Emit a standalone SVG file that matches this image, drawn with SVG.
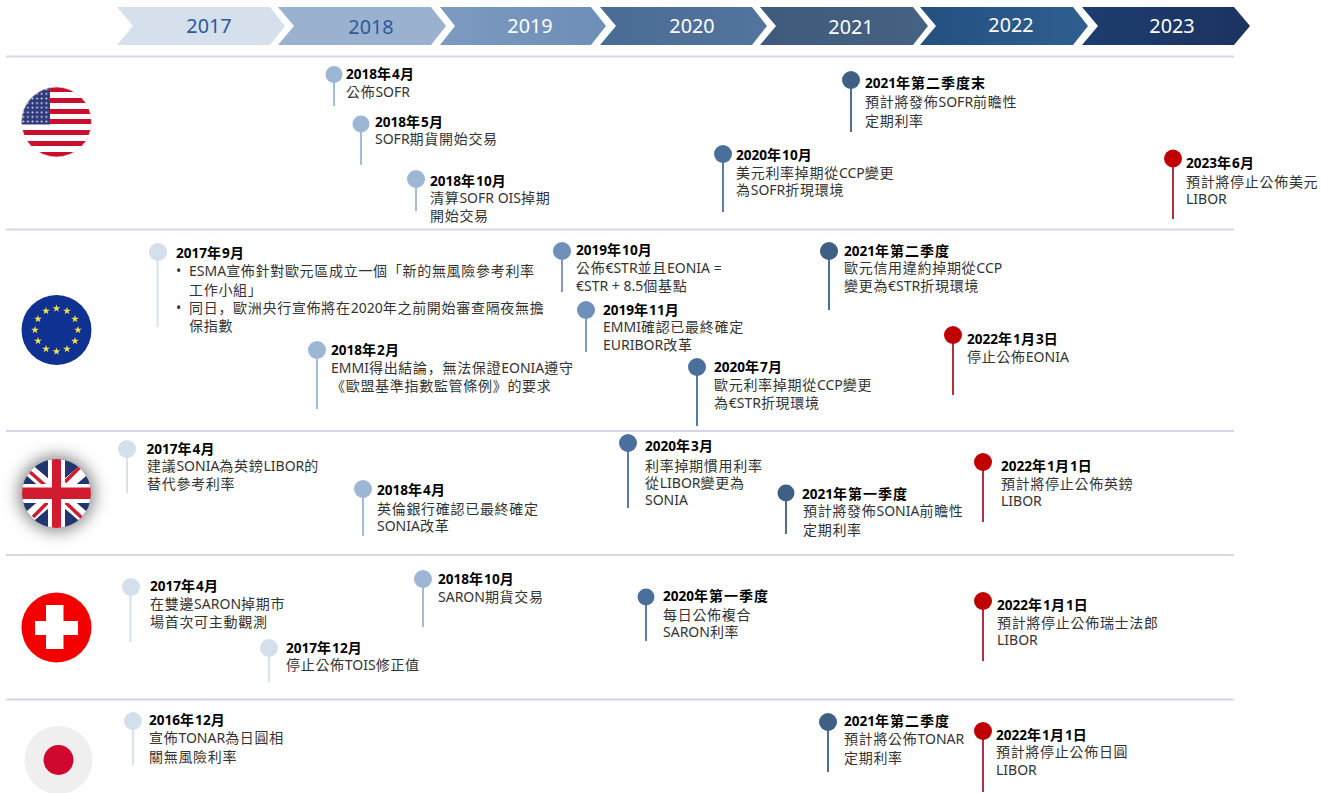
<svg xmlns="http://www.w3.org/2000/svg" width="1330" height="793" viewBox="0 0 1330 793">
<style>
text{font-family:"Noto Sans","Noto Sans CJK TC",sans-serif;font-size:14px;letter-spacing:.7px;fill:#333}
.l{font-size:14px;letter-spacing:0}
.t{font-weight:700;fill:#000;font-size:14px;letter-spacing:1px}
.t .l{font-size:13.6px;letter-spacing:0}
.sc{font-family:"Noto Sans CJK SC",sans-serif}
.y{font-size:19.8px;letter-spacing:0;text-anchor:middle;fill:#fff}
.yd{fill:#2a5a9c}
.r{stroke:#d6d6ea;stroke-width:2}
.s{stroke-width:2;fill:none}
.c17{fill:#d3dfea}.c18{fill:#9db6d3}.c19{fill:#6f90b8}.c20{fill:#4b6f9b}.c21{fill:#3f5f85}.c22{fill:#c00000}
.l17{stroke:#d8e2ec}.l18{stroke:#a5bcd6}.l19{stroke:#7f9cc0}.l20{stroke:#5a7ba5}.l21{stroke:#4f6d90}.l22{stroke:#b03040}
</style>
<defs>
<linearGradient id="g19" x1="0" x2="1" y1="0" y2="0"><stop offset="0" stop-color="#7d9ac0"/><stop offset="1" stop-color="#6d8eb7"/></linearGradient>
<linearGradient id="g20" x1="0" x2="1" y1="0" y2="0"><stop offset="0" stop-color="#4a6b94"/><stop offset="1" stop-color="#53749d"/></linearGradient>
<linearGradient id="g21" x1="0" x2="1" y1="0" y2="0"><stop offset="0" stop-color="#3e5b7b"/><stop offset="1" stop-color="#466282"/></linearGradient>
<linearGradient id="g22" x1="0" x2="1" y1="0" y2="0"><stop offset="0" stop-color="#23507f"/><stop offset="1" stop-color="#2f5f8f"/></linearGradient>
<linearGradient id="g23" x1="0" x2="1" y1="0" y2="0"><stop offset="0" stop-color="#1c3d6e"/><stop offset="1" stop-color="#1d3360"/></linearGradient>
<pattern id="stars" width="4.6" height="4.6" patternUnits="userSpaceOnUse" x="21" y="87"><rect width="4.6" height="4.6" fill="#2f3a7e"/><circle cx="2.300" cy="2.300" r="1" fill="#dfe0ee"/></pattern>
<clipPath id="cu"><circle cx="56.500" cy="122" r="35"/></clipPath>
<clipPath id="cg"><circle cx="56.500" cy="493.500" r="34.500"/></clipPath>
<filter id="sh" x="-60%" y="-60%" width="220%" height="220%"><feGaussianBlur stdDeviation="8"/></filter>
<polygon id="star" points="0,-4 .95,-1.200 3.900,-1.200 1.500,.5 2.400,3.300 0,1.600 -2.400,3.300 -1.500,.5 -3.900,-1.200 -.95,-1.200" fill="#f7e04b"/>
</defs>
<rect width="1330" height="793" fill="#fff"/>

<g id="timeline">
<g id="y2017"><polygon points="117,7 270,7 285,26 270,45 117,45 133,26" fill="#d5e0ec"/><text class="y yd" x="209" y="33">2017</text></g>
<g id="y2018"><polygon points="278,7 431,7 446,26 431,45 278,45 294,26" fill="#9ab2cf"/><text class="y yd" x="371" y="34">2018</text></g>
<g id="y2019"><polygon points="440,7 591,7 606,26 591,45 440,45 455,26" fill="url(#g19)"/><text class="y" x="530" y="33">2019</text></g>
<g id="y2020"><polygon points="600,7 752,7 767,26 752,45 600,45 616,26" fill="url(#g20)"/><text class="y" x="692" y="33">2020</text></g>
<g id="y2021"><polygon points="760,7 913,7 928,26 913,45 760,45 776,26" fill="url(#g21)"/><text class="y" x="851" y="34">2021</text></g>
<g id="y2022"><polygon points="920,7 1073,7 1088,26 1073,45 920,45 936,26" fill="url(#g22)"/><text class="y" x="1011" y="32">2022</text></g>
<g id="y2023"><polygon points="1082,7 1234,7 1250,26 1234,45 1082,45 1098,26" fill="url(#g23)"/><text class="y" x="1172" y="33">2023</text></g>
</g>

<g id="rows">
<line class="r" x1="6" x2="1234" y1="56.500" y2="56.500"/>
<line class="r" x1="6" x2="1234" y1="229.500" y2="229.500"/>
<line class="r" x1="6" x2="1234" y1="431" y2="431"/>
<line class="r" x1="6" x2="1234" y1="555" y2="555"/>
<line class="r" x1="6" x2="1234" y1="699.500" y2="699.500"/>
</g>

<g id="flag-us"><g clip-path="url(#cu)">
<rect x="21" y="87" width="71" height="70" fill="#fff"/>
<g fill="#c8102e"><rect x="21" y="87" width="71" height="5"/><rect x="21" y="98" width="71" height="5"/><rect x="21" y="109" width="71" height="5"/><rect x="21" y="119" width="71" height="5"/><rect x="21" y="130" width="71" height="5"/><rect x="21" y="141" width="71" height="5"/><rect x="21" y="152" width="71" height="5"/></g>
<rect x="21" y="87" width="29" height="37.500" fill="url(#stars)"/>
</g><circle cx="56.500" cy="122" r="35" fill="none" stroke="#ddd" stroke-width=".7"/></g>
<g id="flag-eu"><circle cx="56.500" cy="330" r="35" fill="#0e3192"/>
<use href="#star" x="56.500" y="308.500"/><use href="#star" x="67" y="311"/><use href="#star" x="75" y="319"/><use href="#star" x="78" y="330"/><use href="#star" x="75" y="341"/><use href="#star" x="67" y="349"/><use href="#star" x="56.500" y="351.500"/><use href="#star" x="46" y="349"/><use href="#star" x="38" y="341"/><use href="#star" x="35" y="330"/><use href="#star" x="38" y="319"/><use href="#star" x="46" y="311"/>
</g>
<g id="flag-uk">
<circle cx="56.500" cy="493.500" r="38" fill="#888" filter="url(#sh)"/>
<g clip-path="url(#cg)">
<rect x="21" y="458" width="72" height="72" fill="#22356f"/>
<path d="M21 463L92 524M21 524L92 463" stroke="#fff" stroke-width="12"/>
<path d="M30 472L47 487M80 467L65 482M33 517L48 502M82 518L65 502" stroke="#d01c2e" stroke-width="3.500"/>
<rect x="48" y="458" width="17" height="72" fill="#fff"/><rect x="21" y="484" width="72" height="19" fill="#fff"/>
<rect x="52" y="458" width="9" height="72" fill="#d01c2e"/><rect x="21" y="487.500" width="72" height="11.500" fill="#d01c2e"/>
</g></g>
<g id="flag-ch"><circle cx="56.500" cy="627.500" r="35" fill="#f40000"/><rect x="46" y="605" width="17.500" height="44" fill="#fff"/><rect x="35" y="621" width="43" height="14" fill="#fff"/></g>
<g id="flag-jp"><circle cx="58.500" cy="760" r="34" fill="#efeff0"/><circle cx="58.500" cy="760" r="15" fill="#d0082f"/></g>

<g id="connectors">
<path class="s l18" d="M334 80V106M361 129V165M416 185V211"/>
<path class="s l20" d="M723 160V212"/>
<path class="s l21" d="M851 86V132"/>
<path class="s l22" d="M1173 165V219"/>
<path class="s l17" d="M157.500 258V327"/>
<path class="s l18" d="M317 356V409"/>
<path class="s l19" d="M562 257V292M586 316V352"/>
<path class="s l20" d="M697 373V426"/>
<path class="s l21" d="M829 257V310"/>
<path class="s l22" d="M953 341V395"/>
<path class="s l17" d="M127 455V493"/>
<path class="s l18" d="M363 495V536"/>
<path class="s l20" d="M628 449V508"/>
<path class="s l21" d="M786 499V534"/>
<path class="s l22" d="M983 468V522"/>
<path class="s l17" d="M130.500 593V642M269 654V682"/>
<path class="s l18" d="M423 585V627"/>
<path class="s l20" d="M646 603V641"/>
<path class="s l22" d="M983 607V661"/>
<path class="s l17" d="M133 727V765"/>
<path class="s l21" d="M828 728V772"/>
<path class="s l22" d="M983 737V792"/>
</g>

<g id="n-us-201804"><circle class="c18" cx="334" cy="74.500" r="8.500"/><text class="t" x="346" y="79"><tspan class="l">2018</tspan>年<tspan class="l">4</tspan>月</text><text x="346" y="97">公佈<tspan class="l">SOFR</tspan></text></g>
<g id="n-us-201805"><circle class="c18" cx="361" cy="124" r="8.500"/><text class="t" x="375" y="127"><tspan class="l">2018</tspan>年<tspan class="l">5</tspan>月</text><text x="375" y="144"><tspan class="l">SOFR</tspan>期貨開始交易</text></g>
<g id="n-us-201810"><circle class="c18" cx="416" cy="179" r="9"/><text class="t" x="430" y="186"><tspan class="l">2018</tspan>年<tspan class="l">10</tspan>月</text><text x="430" y="203">清算<tspan class="l">SOFR OIS</tspan>掉期</text><text x="430" y="221">開始交易</text></g>
<g id="n-us-202010"><circle class="c20" cx="723" cy="154" r="9"/><text class="t" x="736" y="160"><tspan class="l">2020</tspan>年<tspan class="l">10</tspan>月</text><text x="736" y="178">美元利率掉期從<tspan class="l">CCP</tspan>變更</text><text x="736" y="195">為<tspan class="l">SOFR</tspan>折現環境</text></g>
<g id="n-us-2021q2"><circle class="c21" cx="851" cy="80" r="9"/><text class="t" x="865" y="88"><tspan class="l">2021</tspan>年第二季度末</text><text x="865" y="107">預計將發佈<tspan class="l">SOFR</tspan>前瞻性</text><text x="865" y="126">定期利率</text></g>
<g id="n-us-202306"><circle class="c22" cx="1173" cy="158.500" r="9"/><text class="t" x="1186" y="168"><tspan class="l">2023</tspan>年<tspan class="l">6</tspan>月</text><text x="1186" y="187">預計將停止公佈美元</text><text class="l" x="1186" y="204">LIBOR</text></g>

<g id="n-eu-201709"><circle class="c17" cx="158" cy="252" r="9"/><text class="t" x="176" y="258"><tspan class="l">2017</tspan>年<tspan class="l">9</tspan>月</text><text x="176" y="276">•</text><text x="189" y="276"><tspan class="l">ESMA</tspan>宣佈針對歐元區成立一個「新的無風險參考利率</text><text x="189" y="295">工作小組」</text><text x="176" y="313">•</text><text x="189" y="313">同日<tspan class="sc">，</tspan>歐洲央行宣佈將在<tspan class="l">2020</tspan>年之前開始審查隔夜無擔</text><text x="189" y="331">保指數</text></g>
<g id="n-eu-201802"><circle class="c18" cx="317" cy="350" r="9"/><text class="t" x="331" y="355"><tspan class="l">2018</tspan>年<tspan class="l">2</tspan>月</text><text x="331" y="373"><tspan class="l">EMMI</tspan>得出結論<tspan class="sc">，</tspan>無法保證<tspan class="l">EONIA</tspan>遵守</text><text x="331" y="391">《歐盟基準指數監管條例》的要求</text></g>
<g id="n-eu-201910"><circle class="c19" cx="562" cy="251" r="9"/><text class="t" x="576" y="255"><tspan class="l">2019</tspan>年<tspan class="l">10</tspan>月</text><text x="576" y="273">公佈<tspan class="l">€STR</tspan>並且<tspan class="l">EONIA =</tspan></text><text x="576" y="291"><tspan class="l">€STR + 8.5</tspan>個基點</text></g>
<g id="n-eu-201911"><circle class="c19" cx="586" cy="310" r="9"/><text class="t" x="603" y="315"><tspan class="l">2019</tspan>年<tspan class="l">11</tspan>月</text><text x="603" y="332"><tspan class="l">EMMI</tspan>確認已最終確定</text><text x="603" y="350"><tspan class="l">EURIBOR</tspan>改革</text></g>
<g id="n-eu-202007"><circle class="c20" cx="697" cy="367" r="9"/><text class="t" x="714" y="372"><tspan class="l">2020</tspan>年<tspan class="l">7</tspan>月</text><text x="714" y="390">歐元利率掉期從<tspan class="l">CCP</tspan>變更</text><text x="714" y="408">為<tspan class="l">€STR</tspan>折現環境</text></g>
<g id="n-eu-2021q2"><circle class="c21" cx="829" cy="251" r="9"/><text class="t" x="844" y="256"><tspan class="l">2021</tspan>年第二季度</text><text x="844" y="273">歐元信用違約掉期從<tspan class="l">CCP</tspan></text><text x="844" y="291">變更為<tspan class="l">€STR</tspan>折現環境</text></g>
<g id="n-eu-202201"><circle class="c22" cx="953" cy="335" r="9"/><text class="t" x="967" y="344"><tspan class="l">2022</tspan>年<tspan class="l">1</tspan>月<tspan class="l">3</tspan>日</text><text x="967" y="362">停止公佈<tspan class="l">EONIA</tspan></text></g>

<g id="n-uk-201704"><circle class="c17" cx="127" cy="449" r="9"/><text class="t" x="146.500" y="454"><tspan class="l">2017</tspan>年<tspan class="l">4</tspan>月</text><text x="147" y="471">建議<tspan class="l">SONIA</tspan>為英鎊<tspan class="l">LIBOR</tspan>的</text><text x="147" y="489">替代參考利率</text></g>
<g id="n-uk-201804"><circle class="c18" cx="363" cy="489" r="9"/><text class="t" x="377" y="495"><tspan class="l">2018</tspan>年<tspan class="l">4</tspan>月</text><text x="377" y="514">英倫銀行確認已最終確定</text><text x="377" y="531"><tspan class="l">SONIA</tspan>改革</text></g>
<g id="n-uk-202003"><circle class="c20" cx="628" cy="443" r="9"/><text class="t" x="645" y="451"><tspan class="l">2020</tspan>年<tspan class="l">3</tspan>月</text><text x="645" y="471">利率掉期慣用利率</text><text x="645" y="488">從<tspan class="l">LIBOR</tspan>變更為</text><text class="l" x="645" y="505">SONIA</text></g>
<g id="n-uk-2021q1"><circle class="c21" cx="786" cy="493" r="8.500"/><text class="t" x="802" y="499"><tspan class="l">2021</tspan>年第一季度</text><text x="803" y="516">預計將發佈<tspan class="l">SONIA</tspan>前瞻性</text><text x="803" y="535">定期利率</text></g>
<g id="n-uk-202201"><circle class="c22" cx="983" cy="462" r="9"/><text class="t" x="1001" y="471"><tspan class="l">2022</tspan>年<tspan class="l">1</tspan>月<tspan class="l">1</tspan>日</text><text x="1001" y="489">預計將停止公佈英鎊</text><text class="l" x="1001" y="506">LIBOR</text></g>

<g id="n-ch-201704"><circle class="c17" cx="131" cy="587" r="9"/><text class="t" x="150" y="591"><tspan class="l">2017</tspan>年<tspan class="l">4</tspan>月</text><text x="150" y="609">在雙邊<tspan class="l">SARON</tspan>掉期市</text><text x="150" y="627">場首次可主動觀測</text></g>
<g id="n-ch-201712"><circle class="c17" cx="269" cy="648" r="9"/><text class="t" x="286" y="653"><tspan class="l">2017</tspan>年<tspan class="l">12</tspan>月</text><text x="286" y="670">停止公佈<tspan class="l">TOIS</tspan>修正值</text></g>
<g id="n-ch-201810"><circle class="c18" cx="423" cy="579" r="9"/><text class="t" x="438" y="584"><tspan class="l">2018</tspan>年<tspan class="l">10</tspan>月</text><text x="438" y="602"><tspan class="l">SARON</tspan>期貨交易</text></g>
<g id="n-ch-2020q1"><circle class="c20" cx="646" cy="597" r="8.500"/><text class="t" x="663" y="601"><tspan class="l">2020</tspan>年第一季度</text><text x="663" y="620">每日公佈複合</text><text x="663" y="637"><tspan class="l">SARON</tspan>利率</text></g>
<g id="n-ch-202201"><circle class="c22" cx="983" cy="601" r="9"/><text class="t" x="997" y="610"><tspan class="l">2022</tspan>年<tspan class="l">1</tspan>月<tspan class="l">1</tspan>日</text><text x="997" y="628">預計將停止公佈瑞士法郎</text><text class="l" x="997" y="645">LIBOR</text></g>

<g id="n-jp-201612"><circle class="c17" cx="133" cy="721" r="9"/><text class="t" x="149" y="725"><tspan class="l">2016</tspan>年<tspan class="l">12</tspan>月</text><text x="149" y="743">宣佈<tspan class="l">TONAR</tspan>為日圓相</text><text x="149" y="762">關無風險利率</text></g>
<g id="n-jp-2021q2"><circle class="c21" cx="828" cy="722" r="9"/><text class="t" x="844" y="726"><tspan class="l">2021</tspan>年第二季度</text><text x="844" y="744">預計將公佈<tspan class="l">TONAR</tspan></text><text x="844" y="763">定期利率</text></g>
<g id="n-jp-202201"><circle class="c22" cx="983" cy="731" r="9"/><text class="t" x="996" y="740"><tspan class="l">2022</tspan>年<tspan class="l">1</tspan>月<tspan class="l">1</tspan>日</text><text x="996" y="757">預計將停止公佈日圓</text><text class="l" x="996" y="775">LIBOR</text></g>
</svg>
